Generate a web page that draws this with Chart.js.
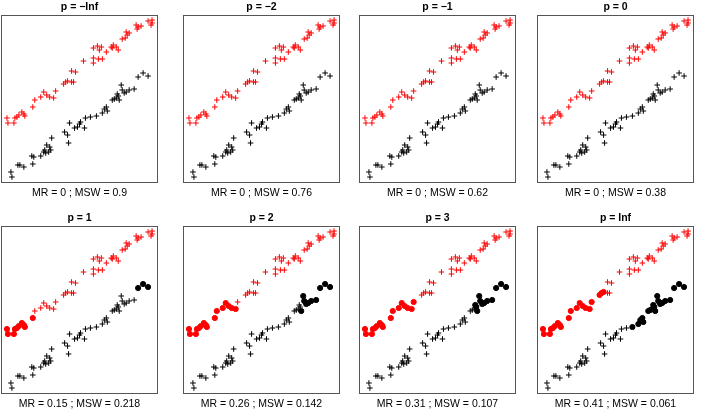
<!DOCTYPE html>
<html>
<head>
<meta charset="utf-8">
<script src="https://cdn.jsdelivr.net/npm/chart.js@4.4.1/dist/chart.umd.min.js"></script>
<style>
  body{margin:0;background:#fff;width:709px;height:410px;overflow:hidden;position:relative;}
  canvas{position:absolute;}
</style>
</head>
<body>
<script>
// the same two point clouds are drawn in every panel
const redX = [6,7,13,14,16,18,21,23,24,32,34,40,43,46,49,53,55,63,65,67,71,73,71,75,83,93,98,102,93,93,97,101,106,99,111,113,116,118,112,126,129,127,125,122,136,138,141,137,148,152,152,151];
const redY = [65,60,60,65,66,68,71,69,67,76,83,86,91,88,86,85,92,99,101,102,101,101,112,111,122,125,124,124,120,135,137,136,131,133,136,138,136,133,135,151,150,148,145,144,158,156,157,154,162,163,160,158];
const blackX = [10,11,17,19,23,31,33,32,40,43,44,45,46,49,50,48,51,64,67,68,69,74,77,79,80,84,85,90,96,102,104,106,107,112,114,116,118,117,119,121,122,124,126,129,134,138,143,148];
const blackY = [11,6,18,18,16,27,26,19,27,31,33,30,38,36,33,31,45,51,48,40,60,55,56,59,61,55,65,66,67,70,74,76,72,83,84,85,87,89,83,98,93,90,91,93,94,106,110,107];

const pLabels = ["p = \u2212Inf","p = \u22122","p = \u22121","p = 0","p = 1","p = 2","p = 3","p = Inf"];
const scoreLabels = ["MR = 0 ; MSW = 0.9","MR = 0 ; MSW = 0.76","MR = 0 ; MSW = 0.62","MR = 0 ; MSW = 0.38",
  "MR = 0.15 ; MSW = 0.218","MR = 0.26 ; MSW = 0.142","MR = 0.31 ; MSW = 0.107","MR = 0.41 ; MSW = 0.061"];
// how many red points (from the left) and black points (from the right) are drawn as dots
const redDotCount = [0,0,0,0,10,16,17,20];
const blackDotCount = [0,0,0,0,3,10,12,20];

const boxLefts = [1,183,359,537];
const boxTops = [15,226];
const boxW = 157, boxH = 168, side = 12;

let redPts = redX.map((x,i)=>({x:x,y:redY[i]})).sort((a,b)=>a.x-b.x);
let blackPts = blackX.map((x,i)=>({x:x,y:blackY[i]})).sort((a,b)=>b.x-a.x);

const framePlugin = {
  id:'frame',
  beforeDatasetsDraw(chart){
    const a=chart.chartArea, ctx=chart.ctx;
    ctx.save();
    ctx.strokeStyle='#555';
    ctx.lineWidth=1;
    ctx.strokeRect(Math.round(a.left)+0.5,Math.round(a.top)+0.5,Math.round(a.right-a.left)-1,Math.round(a.bottom-a.top)-1);
    ctx.restore();
  }
};

function makeSet(data,color,style,r){
  return {data:data,pointStyle:style,pointRadius:r,pointHoverRadius:r,
    borderColor:color,backgroundColor:color,pointBorderWidth:1,showLine:false};
}

for(let k=0;k<8;k++){
  const col=k%4, row=Math.floor(k/4);
  const cv=document.createElement('canvas');
  const w=boxW+2*side, h=201;
  cv.width=w; cv.height=h;
  cv.style.left=(boxLefts[col]-side)+'px';
  cv.style.top=(boxTops[row]-14)+'px';
  document.body.appendChild(cv);

  const nr=redDotCount[k], nb=blackDotCount[k];
  new Chart(cv,{
    type:'scatter',
    data:{datasets:[
      makeSet(redPts.slice(nr),'#ff0000','cross',2.8),
      makeSet(blackPts.slice(nb),'#000000','cross',2.8),
      makeSet(redPts.slice(0,nr),'#ff0000','circle',2.6),
      makeSet(blackPts.slice(0,nb),'#000000','circle',2.6)
    ]},
    options:{
      responsive:false,
      animation:false,
      layout:{padding:{left:side,right:side,top:0,bottom:0}},
      scales:{
        x:{display:false,min:0,max:158},
        y:{display:false,min:0,max:168}
      },
      plugins:{
        legend:{display:false},
        tooltip:{enabled:false},
        title:{display:true,text:pLabels[k],color:'#000',
          font:{family:'"Liberation Sans", Arial, sans-serif',size:10.5,weight:'bold',lineHeight:1.2},
          padding:{top:0,bottom:1.4}},
        subtitle:{display:true,position:'bottom',text:scoreLabels[k],color:'#000',
          font:{family:'"Liberation Sans", Arial, sans-serif',size:10.5,weight:'normal',lineHeight:1.2},
          padding:{top:4,bottom:2.4}}
      }
    },
    plugins:[framePlugin]
  });
}
</script>
</body>
</html>
